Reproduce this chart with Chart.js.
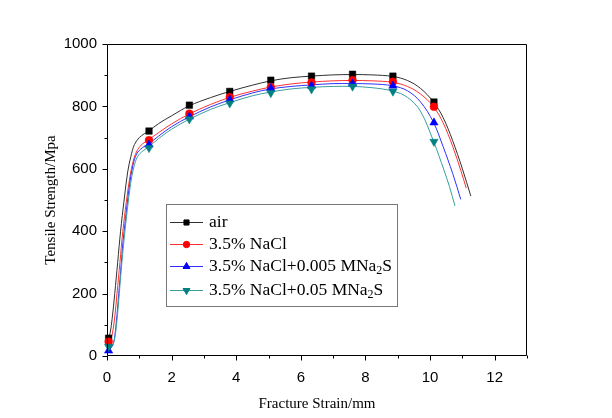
<!DOCTYPE html>
<html><head><meta charset="utf-8">
<script src="https://cdn.jsdelivr.net/npm/chart.js@4/dist/chart.umd.min.js"></script>
<style>html,body{margin:0;padding:0;background:#fff}</style>
</head><body>
<canvas id="c" width="612" height="418"></canvas>
<script>
// ---- data ----
const seriesNames = ['air', '3.5% NaCl', '3.5% NaCl+0.005 MNa2S', '3.5% NaCl+0.05 MNa2S'];
const markerX = [0.05, 1.3, 2.55, 3.8, 5.07, 6.33, 7.6, 8.85, 10.12];
const airMarkers   = [57, 721, 804, 848, 884, 897, 903, 897, 814];
const naclMarkers  = [46, 692, 777, 830, 862, 877, 884, 879, 799];
const mna005Markers = [17, 677, 767, 822, 858, 866, 873, 866, 748];
const mna05Markers  = [30, 667, 759, 810, 843, 855, 864, 848, 687];

const airCurveX = [0.05,0.1,0.16,0.24,0.33,0.42,0.53,0.64,0.74,0.85,1.0,1.15,1.3,1.6,2.0,2.55,3.2,3.8,4.5,5.07,5.7,6.33,7.0,7.6,8.2,8.85,9.3,9.7,10.1,10.4,10.7,11.0,11.26];
const airCurveY = [57,75,120,200,300,400,500,590,640,678,700,712,722,745,770,802,828,848,868,882,892,897,901,902,901,896,883,858,815,765,690,600,513];
const naclCurveX = [0.05,0.12,0.18,0.24,0.31,0.4,0.49,0.6,0.71,0.82,0.95,1.1,1.3,1.6,2.0,2.55,3.2,3.8,4.5,5.07,5.7,6.33,7.0,7.6,8.2,8.85,9.3,9.7,10.1,10.4,10.7,10.95,11.12];
const naclCurveY = [46,55,80,125,200,300,400,495,575,628,662,680,694,716,744,776,806,829,849,862,872,878,882,883,882,877,864,840,800,748,672,595,538];
const mna005CurveX = [0.05,0.12,0.2,0.27,0.34,0.42,0.5,0.6,0.7,0.8,0.92,1.1,1.3,1.6,2.0,2.55,3.2,3.8,4.5,5.07,5.7,6.33,7.0,7.6,8.2,8.85,9.3,9.7,10.1,10.4,10.7,10.95];
const mna005CurveY = [20,25,40,90,170,270,370,465,550,610,648,668,681,705,735,767,798,821,843,856,864,869,873,873,872,866,850,815,750,672,585,502];
const mna05CurveX = [0.05,0.14,0.22,0.29,0.36,0.44,0.53,0.63,0.73,0.83,0.95,1.12,1.3,1.6,2.0,2.55,3.2,3.8,4.5,5.07,5.7,6.33,7.0,7.6,8.2,8.85,9.3,9.7,10.1,10.43,10.6,10.77];
const mna05CurveY = [30,32,48,95,175,275,375,470,552,605,640,658,671,697,727,759,790,812,834,846,856,861,864,864,860,849,829,785,690,596,543,481];

const xTickValues = [0,2,4,6,8,10,12];
const yTickValues = [0,200,400,600,800,1000];

// ---- styles ----
const markerColors = ['#000000', '#ff0000', '#0000ff', '#008080'];
const lineColors   = ['#303030', '#ff3030', '#3030ff', '#3a9e9e'];
const markerStyles = ['rect', 'circle', 'triangle', 'triangle'];
const markerRot    = [0, 0, 0, 180];
const markerRad    = [4.6, 3.9, 4.8, 4.8];

const curves = [[airCurveX, airCurveY],[naclCurveX, naclCurveY],[mna005CurveX, mna005CurveY],[mna05CurveX, mna05CurveY]];
const markers = [airMarkers, naclMarkers, mna005Markers, mna05Markers];

const datasets = [];
curves.forEach((c, i) => {
  datasets.push({
    label: seriesNames[i] + ' curve',
    data: c[0].map((x, k) => ({x, y: c[1][k]})),
    showLine: true, pointRadius: 0, borderColor: lineColors[i], borderWidth: 1,
    tension: 0.35, order: 20 - i, clip: false
  });
});
markers.forEach((m, i) => {
  datasets.push({
    label: seriesNames[i],
    data: markerX.map((x, k) => ({x, y: m[k]})),
    showLine: false, pointStyle: markerStyles[i], rotation: markerRot[i],
    pointRadius: markerRad[i], pointBackgroundColor: markerColors[i], pointBorderColor: markerColors[i],
    pointBorderWidth: 0.5, order: 10 - i, clip: false
  });
});

const PLOT = {left: 107, top: 44, right: 527, bottom: 356};

const framePlugin = {
  id: 'frame',
  afterDraw(chart) {
    const {ctx, chartArea: a, scales: {x, y}} = chart;
    ctx.save();
    ctx.strokeStyle = '#000'; ctx.lineWidth = 1;
    ctx.beginPath();
    const L = Math.round(a.left) + 0.5, R = Math.round(a.right) - 0.5, T = Math.round(a.top) + 0.5, B = Math.round(a.bottom) - 0.5;
    ctx.rect(L, T, R - L, B - T);
    x.ticks.forEach(t => {
      const px = Math.round(x.getPixelForValue(t.value)) + 0.5;
      const len = xTickValues.includes(t.value) ? 5 : 3;
      ctx.moveTo(px, B); ctx.lineTo(px, B + len);
    });
    y.ticks.forEach(t => {
      const py = Math.round(y.getPixelForValue(t.value)) + 0.5;
      const len = yTickValues.includes(t.value) ? 5 : 3;
      ctx.moveTo(L, py); ctx.lineTo(L - len, py);
    });
    ctx.stroke();
    ctx.restore();
  }
};

function drawMarker(ctx, i, cx, cy, r) {
  Chart.helpers.drawPoint(ctx, {pointStyle: markerStyles[i], rotation: markerRot[i], radius: r, borderWidth: 0.5}, cx, cy);
}

const legendPlugin = {
  id: 'customLegend',
  afterDraw(chart) {
    const ctx = chart.ctx;
    ctx.save();
    const bx = 166.5, by = 204.5, bw = 231, bh = 102;
    ctx.fillStyle = '#fff';
    ctx.fillRect(bx, by, bw, bh);
    ctx.strokeStyle = '#777'; ctx.lineWidth = 1;
    ctx.strokeRect(bx, by, bw, bh);
    const rowsY = [222, 244, 266, 290];
    const font = '17.5px "Liberation Serif"';
    const subFont = '12px "Liberation Serif"';
    seriesNames.forEach((name, i) => {
      const yy = rowsY[i];
      ctx.strokeStyle = lineColors[i]; ctx.lineWidth = 1;
      ctx.beginPath(); ctx.moveTo(170, yy + 0.5); ctx.lineTo(203, yy + 0.5); ctx.stroke();
      ctx.fillStyle = markerColors[i]; ctx.strokeStyle = markerColors[i];
      drawMarker(ctx, i, 186.5, yy + 0.5, i === 0 ? 3.6 : (i === 1 ? 3.2 : 4));
      ctx.fillStyle = '#000';
      ctx.font = font; ctx.textBaseline = 'middle'; ctx.textAlign = 'left';
      let tx = 209;
      const m = name.match(/^(.*Na)2(S)$/);
      if (m) {
        ctx.fillText(m[1], tx, yy); tx += ctx.measureText(m[1]).width;
        ctx.font = subFont; ctx.fillText('2', tx, yy + 5); tx += ctx.measureText('2').width;
        ctx.font = font; ctx.fillText(m[2], tx, yy);
      } else {
        ctx.fillText(name, tx, yy);
      }
    });
    ctx.restore();
  }
};

new Chart(document.getElementById('c'), {
  type: 'scatter',
  data: {datasets},
  options: {
    responsive: false, animation: false, devicePixelRatio: 1,
    layout: {padding: {left: 0, top: PLOT.top, right: 612 - PLOT.right, bottom: 0}},
    plugins: {legend: {display: false}, tooltip: {enabled: false}},
    scales: {
      x: {
        type: 'linear', min: 0, max: 13,
        afterFit(s) { s.height = 418 - PLOT.bottom; },
        ticks: {stepSize: 1, autoSkip: false, maxRotation: 0, padding: 8, color: '#000',
          font: {family: '"Liberation Sans"', size: 15},
          callback: v => xTickValues.includes(v) ? String(v) : ''},
        grid: {display: true, drawOnChartArea: false, tickLength: 5, tickColor: 'rgba(0,0,0,0)'},
        border: {display: false},
        title: {display: true, text: 'Fracture Strain/mm', color: '#000',
          font: {family: '"Liberation Serif"', size: 15}, padding: {top: 0, bottom: 5}}
      },
      y: {
        type: 'linear', min: 0, max: 1000,
        afterFit(s) { s.width = PLOT.left; },
        ticks: {stepSize: 100, autoSkip: false, padding: 5, color: '#000',
          font: {family: '"Liberation Sans"', size: 15},
          callback: v => yTickValues.includes(v) ? String(v) : ''},
        grid: {display: true, drawOnChartArea: false, tickLength: 5, tickColor: 'rgba(0,0,0,0)'},
        border: {display: false},
        title: {display: true, text: 'Tensile Strength/Mpa', color: '#000',
          font: {family: '"Liberation Serif"', size: 15}, padding: {top: 42, bottom: 0}}
      }
    }
  },
  plugins: [framePlugin, legendPlugin]
});
</script>
</body></html>
